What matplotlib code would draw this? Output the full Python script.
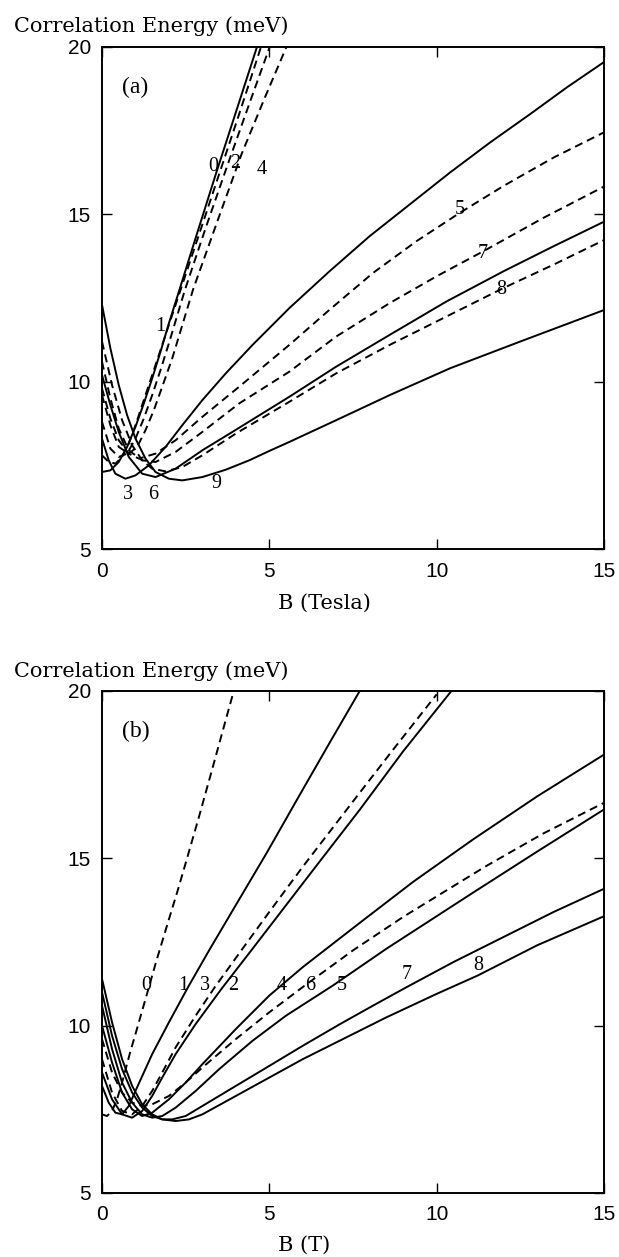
import matplotlib
matplotlib.use("Agg")
import matplotlib.pyplot as plt

# ---- panel (a): B in Tesla, E in meV ----
a0_b = [0, 0.25, 0.5, 0.75, 1.0, 1.25, 1.5, 1.75, 2.0, 2.3, 2.8, 3.4, 4.0, 4.63]
a0_e = [7.3, 7.35, 7.6, 8.05, 8.65, 9.35, 10.1, 10.9, 11.75, 12.7, 14.3, 16.2, 18.05, 20.0]
a1_b = [0, 0.2, 0.4, 0.6, 0.8, 1.0, 1.25, 1.5, 1.75, 2.0, 2.35, 2.9, 3.5, 4.1, 4.75]
a1_e = [7.8, 7.6, 7.55, 7.75, 8.15, 8.7, 9.45, 10.2, 10.95, 11.7, 12.75, 14.4, 16.2, 18.0, 20.0]
a2_b = [0, 0.25, 0.5, 0.75, 1.0, 1.25, 1.5, 1.75, 2.0, 2.48, 3.1, 3.76, 4.4, 5.01]
a2_e = [8.8, 8.0, 7.75, 7.85, 8.3, 8.9, 9.6, 10.35, 11.15, 12.75, 14.6, 16.5, 18.3, 20.0]
a4_b = [0, 0.25, 0.5, 0.8, 1.05, 1.3, 1.55, 1.8, 2.1, 2.72, 3.45, 4.17, 4.85, 5.51]
a4_e = [9.6, 8.7, 8.05, 7.85, 8.05, 8.55, 9.15, 9.85, 10.7, 12.75, 14.8, 16.8, 18.45, 20.0]
a3_b = [0, 0.2, 0.4, 0.7, 1.0, 1.4, 1.9, 2.4, 3.0, 3.7, 4.5, 5.6, 6.8, 8.0, 9.2, 10.4, 11.6, 12.8, 13.9, 15.0]
a3_e = [8.3, 7.65, 7.25, 7.1, 7.2, 7.5, 8.05, 8.7, 9.45, 10.25, 11.1, 12.2, 13.3, 14.35, 15.3, 16.25, 17.15, 18.0, 18.8, 19.55]
a5_b = [0, 0.25, 0.5, 0.8, 1.1, 1.6, 2.2, 3.0, 4.1, 5.6, 6.8, 8.1, 9.4, 10.7, 12.0, 13.5, 15.0]
a5_e = [9.8, 8.9, 8.25, 7.85, 7.7, 7.85, 8.25, 8.95, 9.85, 11.1, 12.15, 13.25, 14.2, 15.05, 15.85, 16.7, 17.45]
a6_b = [0, 0.25, 0.5, 0.8, 1.2, 1.6, 2.2, 3.0, 3.9, 5.6, 7.0, 8.6, 10.3, 12.0, 13.5, 15.0]
a6_e = [10.2, 9.3, 8.5, 7.75, 7.25, 7.15, 7.4, 7.95, 8.5, 9.55, 10.45, 11.4, 12.4, 13.3, 14.05, 14.78]
a7_b = [0, 0.25, 0.5, 0.8, 1.2, 1.6, 2.2, 3.0, 4.1, 5.6, 7.0, 8.6, 10.0, 11.4, 13.2, 15.0]
a7_e = [10.6, 9.5, 8.6, 7.95, 7.65, 7.6, 7.9, 8.5, 9.35, 10.3, 11.35, 12.35, 13.15, 13.9, 14.9, 15.83]
a8_b = [0, 0.3, 0.6, 0.9, 1.2, 1.5, 1.9, 2.4, 3.0, 4.0, 5.6, 7.0, 8.6, 10.3, 12.0, 13.5, 15.0]
a8_e = [11.2, 9.9, 8.85, 8.1, 7.65, 7.4, 7.32, 7.45, 7.8, 8.45, 9.4, 10.25, 11.1, 11.95, 12.8, 13.5, 14.23]
a9_b = [0, 0.25, 0.5, 0.75, 1.0, 1.3, 1.6, 2.0, 2.4, 3.0, 3.7, 4.4, 5.0, 5.6, 7.0, 8.6, 10.4, 12.5, 15.0]
a9_e = [12.3, 11.0, 9.9, 9.0, 8.3, 7.7, 7.3, 7.1, 7.05, 7.15, 7.37, 7.65, 7.93, 8.2, 8.85, 9.6, 10.4, 11.2, 12.14]

a_curves = [(a0_b, a0_e, "-"), (a1_b, a1_e, "--"), (a2_b, a2_e, "--"),
             (a4_b, a4_e, "--"), (a3_b, a3_e, "-"), (a5_b, a5_e, "--"),
             (a6_b, a6_e, "-"), (a7_b, a7_e, "--"), (a8_b, a8_e, "--"),
             (a9_b, a9_e, "-")]
a_labels = ["0", "2", "4", "1", "3", "6", "9", "5", "7", "8"]
a_label_b = [3.32, 3.97, 4.77, 1.73, 0.79, 1.53, 3.42, 10.7, 11.37, 11.94]
a_label_e = [16.43, 16.53, 16.33, 11.64, 6.62, 6.62, 6.95, 15.13, 13.84, 12.74]

# ---- panel (b): B in Tesla, E in meV ----
b0_b = [0, 0.15, 0.3, 0.45, 0.6, 0.72, 0.84, 1.0, 1.33, 1.6, 1.93, 2.25, 2.53, 2.9, 3.22, 3.55, 3.92]
b0_e = [7.35, 7.3, 7.45, 7.8, 8.3, 8.75, 9.2, 9.75, 10.9, 11.85, 12.95, 14.0, 14.96, 16.25, 17.4, 18.6, 19.94]
b1_b = [0, 0.2, 0.4, 0.6, 0.8, 1.0, 1.25, 1.5, 2.0, 2.57, 3.2, 3.92, 4.92, 5.91, 6.8, 7.7]
b1_e = [8.2, 7.7, 7.4, 7.35, 7.6, 8.05, 8.6, 9.15, 10.1, 11.15, 12.25, 13.47, 15.16, 16.9, 18.45, 20.0]
b3_b = [0, 0.3, 0.6, 0.9, 1.2, 1.5, 1.8, 2.2, 2.8, 3.37, 4.2, 5.0, 6.0, 7.5, 8.7, 10.0]
b3_e = [9.0, 8.0, 7.45, 7.35, 7.6, 8.05, 8.6, 9.35, 10.3, 11.15, 12.3, 13.4, 14.75, 16.7, 18.25, 19.9]
b2_b = [0, 0.3, 0.6, 0.9, 1.2, 1.5, 1.8, 2.2, 2.8, 3.57, 4.5, 5.5, 6.5, 7.7, 9.0, 10.44]
b2_e = [8.6, 7.8, 7.35, 7.25, 7.45, 7.9, 8.45, 9.15, 10.05, 11.1, 12.3, 13.6, 14.9, 16.45, 18.2, 20.0]
b4_b = [0, 0.3, 0.6, 0.9, 1.2, 1.5, 2.0, 2.5, 3.0, 4.0, 5.0, 6.0, 7.7, 9.3, 11.08, 13.0, 15.0]
b4_e = [10.0, 8.9, 8.0, 7.5, 7.3, 7.4, 7.8, 8.3, 8.85, 9.9, 10.9, 11.75, 13.07, 14.3, 15.56, 16.85, 18.1]
b6_b = [0, 0.3, 0.6, 0.9, 1.2, 1.5, 2.0, 2.5, 3.0, 4.0, 5.0, 6.06, 7.5, 9.0, 11.48, 13.2, 15.0]
b6_e = [9.6, 8.6, 8.0, 7.7, 7.6, 7.65, 7.9, 8.3, 8.75, 9.6, 10.4, 11.2, 12.25, 13.25, 14.77, 15.75, 16.66]
b5_b = [0, 0.3, 0.6, 0.9, 1.2, 1.5, 1.8, 2.2, 2.8, 3.5, 4.5, 5.5, 6.9, 8.5, 11.08, 13.0, 15.0]
b5_e = [10.6, 9.3, 8.3, 7.7, 7.35, 7.25, 7.3, 7.55, 8.05, 8.7, 9.55, 10.3, 11.2, 12.3, 13.97, 15.2, 16.46]
b7_b = [0, 0.3, 0.6, 0.9, 1.2, 1.5, 1.8, 2.1, 2.5, 3.0, 4.0, 4.92, 6.0, 7.1, 8.1, 9.1, 10.5, 12.0, 13.5, 15.0]
b7_e = [11.0, 9.7, 8.7, 8.0, 7.55, 7.3, 7.2, 7.2, 7.3, 7.6, 8.2, 8.75, 9.4, 10.04, 10.6, 11.15, 11.9, 12.65, 13.4, 14.09]
b8_b = [0, 0.3, 0.6, 0.9, 1.2, 1.5, 1.8, 2.2, 2.6, 3.0, 4.0, 5.0, 6.0, 7.1, 8.5, 10.0, 11.23, 13.0, 15.0]
b8_e = [11.4, 10.1, 9.0, 8.2, 7.65, 7.35, 7.2, 7.15, 7.2, 7.35, 7.9, 8.45, 9.0, 9.55, 10.25, 10.95, 11.5, 12.4, 13.27]

b_curves = [(b0_b, b0_e, "--"), (b1_b, b1_e, "-"), (b3_b, b3_e, "--"),
             (b2_b, b2_e, "-"), (b4_b, b4_e, "-"), (b6_b, b6_e, "--"),
             (b5_b, b5_e, "-"), (b7_b, b7_e, "-"), (b8_b, b8_e, "-")]
b_labels = ["0", "1", "3", "2", "4", "6", "5", "7", "8"]
b_label_b = [1.33, 2.43, 3.07, 3.92, 5.36, 6.21, 7.16, 9.1, 11.23]
b_label_e = [11.19, 11.19, 11.19, 11.19, 11.19, 11.2, 11.2, 11.53, 11.79]

DASH = (0, (4.2, 2.6))
W, H = 619, 1257
fig = plt.figure(figsize=(W / 100, H / 100), dpi=100)

ax_a = fig.add_axes([102 / W, 1 - 549 / H, 502 / W, 502 / H])
ax_b = fig.add_axes([102 / W, 1 - 1193 / H, 502 / W, 502 / H])


def draw_panel(ax, curves, labels, lab_b, lab_e, tag):
    for bx, ey, ls in curves:
        ax.plot(bx, ey, color="black", lw=1.4,
                linestyle=DASH if ls == "--" else "-", solid_capstyle="butt")
    for t, x, y in zip(labels, lab_b, lab_e):
        ax.text(x, y, t, ha="center", va="center", fontsize=14.5,
                family="Liberation Serif", color="black")
    ax.text(0.6, 18.8, tag, fontsize=17, family="Liberation Serif",
            ha="left", va="center")
    ax.set_xlim(0, 15)
    ax.set_ylim(5, 20)
    ax.set_xticks([0, 5, 10, 15])
    ax.set_yticks([5, 10, 15, 20])
    ax.tick_params(direction="in", length=7, width=1.0, top=True, right=True,
                   labelsize=15)
    ax.tick_params(axis="x", pad=9)
    ax.tick_params(axis="y", pad=8)
    for lab in ax.get_xticklabels() + ax.get_yticklabels():
        lab.set_family("Liberation Sans")
    for sp in ax.spines.values():
        sp.set_linewidth(1.4)


draw_panel(ax_a, a_curves, a_labels, a_label_b, a_label_e, "(a)")
draw_panel(ax_b, b_curves, b_labels, b_label_b, b_label_e, "(b)")

txt = dict(family="DejaVu Serif", fontsize=15, ha="left", va="center")
fig.text(14 / W, 1 - 26 / H, "Correlation Energy (meV)", **txt)
fig.text(14 / W, 1 - 671 / H, "Correlation Energy (meV)", **txt)
fig.text(278 / W, 1 - 603 / H, "B (Tesla)", **txt)
fig.text(278 / W, 1 - 1245 / H, "B (T)", **txt)

fig.savefig("out.png", dpi=100)
